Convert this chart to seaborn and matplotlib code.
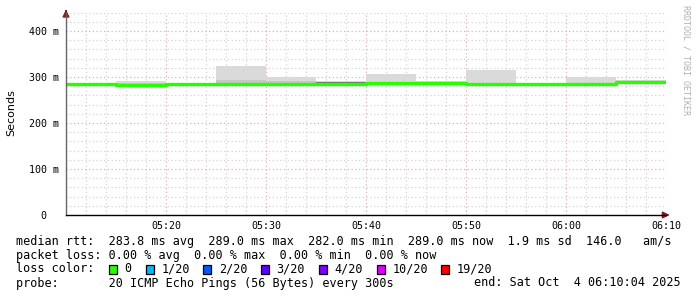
import numpy as np
import pandas as pd
import matplotlib
matplotlib.use("Agg")
import matplotlib.pyplot as plt
from matplotlib.transforms import ScaledTranslation
import seaborn as sns

# ---------------- data ----------------
interval_starts = ["05:10", "05:15", "05:20", "05:25", "05:30", "05:35",
                   "05:40", "05:45", "05:50", "05:55", "06:00", "06:05"]
end_time = "06:10"
median_ms = [283.8, 282.0, 284.0, 284.5, 285.0, 284.5, 287.5, 286.0, 284.0, 283.8, 284.0, 289.0]
smoke_min = [283.8, 281.0, 283.5, 283.5, 284.0, 283.5, 284.0, 285.0, 283.5, 283.8, 283.5, 288.0]
smoke_mid = [283.8, 288.0, 285.0, 293.5, 292.0, 289.0, 290.0, 289.0, 288.0, 283.8, 286.0, 291.0]
smoke_max = [283.8, 291.0, 287.0, 324.5, 299.0, 291.0, 306.5, 291.0, 315.0, 283.8, 299.0, 293.0]
dark_lo = [np.nan, np.nan, np.nan, np.nan, np.nan, 287.3, 284.0, 289.5, np.nan, np.nan, np.nan, np.nan]
dark_hi = [np.nan, np.nan, np.nan, np.nan, np.nan, 288.5, 285.5, 290.8, np.nan, np.nan, np.nan, np.nan]

xtick_labels = ["05:20", "05:30", "05:40", "05:50", "06:00", "06:10"]
ytick_values = [0, 100, 200, 300, 400]
ytick_labels = ["0", "100 m", "200 m", "300 m", "400 m"]

loss_labels = ["0", "1/20", "2/20", "3/20", "4/20", "10/20", "19/20"]
loss_colors = ["#26ff00", "#00b8ff", "#0059ff", "#5e00ff", "#7e00ff", "#dd00ff", "#ff0000"]

legend_lines = [
    "median rtt:  283.8 ms avg  289.0 ms max  282.0 ms min  289.0 ms now  1.9 ms sd  146.0   am/s",
    "packet loss: 0.00 % avg  0.00 % max  0.00 % min  0.00 % now",
    "loss color:",
    "probe:       20 ICMP Echo Pings (56 Bytes) every 300s",
]
end_text = "end: Sat Oct  4 06:10:04 2025"

# ---------------- helpers ----------------
def to_min(s):
    h, m = s.split(":")
    return int(h) * 60 + int(m)

t0 = to_min(interval_starts[0])
edges = [to_min(s) - t0 for s in interval_starts] + [to_min(end_time) - t0]

def stepped(vals):
    return list(vals) + [vals[-1]]

df = pd.DataFrame({
    "t": edges,
    "median": stepped(median_ms),
    "smin": stepped(smoke_min),
    "smid": stepped(smoke_mid),
    "smax": stepped(smoke_max),
    "dlo": stepped(dark_lo),
    "dhi": stepped(dark_hi),
})

# ---------------- figure ----------------
sns.set_theme(style="white")
plt.rcParams["font.family"] = ["DejaVu Sans Mono", "DejaVu Sans"]
W, H = 697, 297
fig = plt.figure(figsize=(W / 100, H / 100), dpi=100)
fig.patch.set_facecolor("white")

left_px, right_px, top_px, bottom_px = 66, 666, 12.6, 215
ax = fig.add_axes([left_px / W, 1 - bottom_px / H, (right_px - left_px) / W, (bottom_px - top_px) / H])
ax.set_facecolor("white")
ax.set_xlim(0, edges[-1])
ax.set_ylim(0, 440)

# grid
minor_x = np.arange(0, edges[-1] + 0.1, 2)
major_x = np.arange(10, edges[-1] + 0.1, 10)
minor_y = np.arange(20, 441, 20)
for x in minor_x:
    if x % 10 != 0:
        ax.axvline(x, color="#d4d4d4", lw=0.9, ls=(0, (1, 2)), zorder=0.5)
for x in major_x:
    ax.axvline(x, color="#e0b2b2", lw=0.9, ls=(0, (1, 2)), zorder=0.6)
for y in minor_y:
    if y % 100 != 0:
        ax.axhline(y, color="#d4d4d4", lw=0.9, ls=(0, (1, 2)), zorder=0.5)
for y in ytick_values[1:]:
    ax.axhline(y, color="#e0b2b2", lw=0.9, ls=(0, (1, 2)), zorder=0.6)

# smoke
ax.fill_between(df["t"], df["smin"], df["smax"], step="post", color="#dadada", lw=0, zorder=1)
ax.fill_between(df["t"], df["smin"], df["smid"], step="post", color="#c6c6c6", lw=0, zorder=1.1)
ax.fill_between(df["t"], df["dlo"], df["dhi"], step="post", color="#707070", lw=0, zorder=1.2)

# median line
sns.lineplot(data=df, x="t", y="median", drawstyle="steps-post", color=loss_colors[0],
             lw=2.4, ax=ax, zorder=2, estimator=None, sort=False)

# axes styling
for s in ["top", "right"]:
    ax.spines[s].set_visible(False)
ax.spines["left"].set_color("#666666")
ax.spines["left"].set_linewidth(1.0)
ax.spines["bottom"].set_color("#000000")
ax.spines["bottom"].set_linewidth(1.0)
ax.spines["left"].set_zorder(3)
ax.spines["bottom"].set_zorder(3)

# extend axes lines with small arrows
ax.annotate("", xy=(0, 1.015), xycoords="axes fraction", xytext=(0, 0.99),
            arrowprops=dict(arrowstyle="-|>,head_length=0.35,head_width=0.17", color="#8b1a1a", lw=1.0))
ax.annotate("", xy=(1.011, 0), xycoords="axes fraction", xytext=(0.995, 0),
            arrowprops=dict(arrowstyle="-|>,head_length=0.35,head_width=0.17", color="#8b1a1a", lw=1.0))

xt = [to_min(s) - t0 for s in xtick_labels]
ax.set_xticks(xt)
ax.set_xticklabels(xtick_labels)
ax.set_yticks(ytick_values)
ax.set_yticklabels(ytick_labels)
ax.tick_params(axis="both", labelsize=7.2, colors="#000000", length=2, width=0.8, direction="out", pad=3)
ax.tick_params(axis="x", pad=2)
ax.set_xlabel("")
ax.set_ylabel("")

# shift the "0" tick label left
lbl0 = ax.get_yticklabels()[0]
lbl0.set_transform(lbl0.get_transform() + ScaledTranslation(-13 / 100, 0, fig.dpi_scale_trans))

fig.text(11 / W, 1 - 113 / H, "Seconds", rotation=90, ha="center", va="center",
         fontsize=8, family="DejaVu Sans", color="#000000")
fig.text(686 / W, 1 - 60 / H, "RRDTOOL / TOBI OETIKER", rotation=270, ha="center", va="center",
         fontsize=6, color="#b0b0b0")

# legend text
fs = 8.45
ys = [241, 255, 269, 283]
for line, y in zip(legend_lines, ys):
    fig.text(16 / W, 1 - y / H, line, ha="left", va="center", fontsize=fs, color="#000000")
fig.text(681 / W, 1 - ys[3] / H, end_text, ha="right", va="center", fontsize=fs, color="#000000")

box_x = [108.5, 145.7, 203.3, 260.7, 318.5, 377.0, 441.0]
for bx, col, lab in zip(box_x, loss_colors, loss_labels):
    fig.patches.append(plt.Rectangle((bx / W, 1 - 273.5 / H), 8 / W, 9 / H, transform=fig.transFigure,
                                     facecolor=col, edgecolor="#000000", lw=0.9))
    fig.text((bx + 15.5) / W, 1 - ys[2] / H, lab, ha="left", va="center", fontsize=fs, color="#000000")

fig.savefig("out.png", dpi=100, facecolor="white")
